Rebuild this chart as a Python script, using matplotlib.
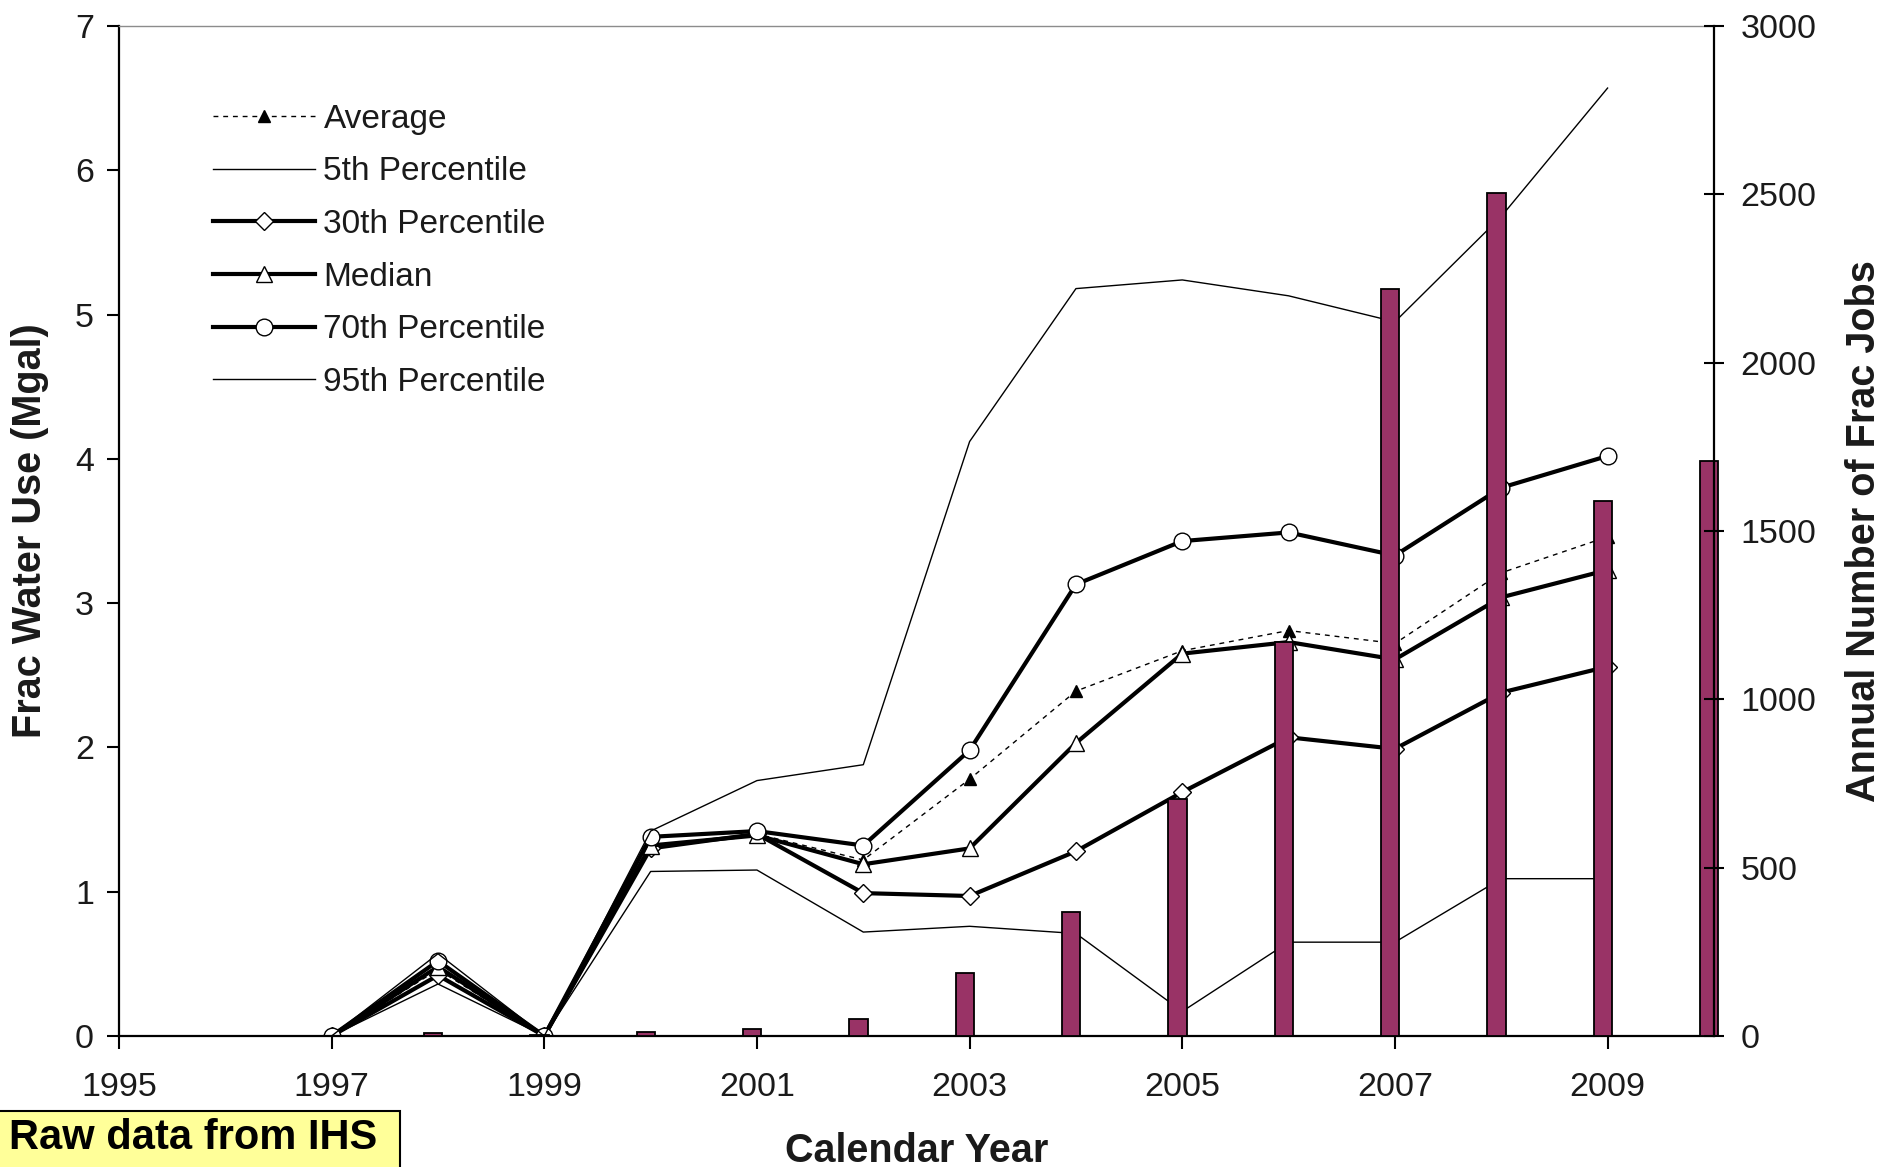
import numpy as np
import matplotlib.pyplot as plt
from matplotlib.patches import Rectangle

plt.rcParams['font.family'] = ['Liberation Sans', 'DejaVu Sans']

# water use per frac job (Mgal), by calendar year
years = [1997, 1998, 1999, 2000, 2001, 2002, 2003, 2004, 2005, 2006, 2007, 2008, 2009]
average = [0, 0.46, 0, 1.32, 1.40, 1.22, 1.78, 2.39, 2.67, 2.81, 2.72, 3.21, 3.46]
p5 = [0, 0.36, 0, 1.14, 1.15, 0.72, 0.76, 0.71, 0.17, 0.65, 0.65, 1.09, 1.09]
p30 = [0, 0.42, 0, 1.30, 1.40, 0.99, 0.97, 1.28, 1.69, 2.07, 1.99, 2.38, 2.56]
median = [0, 0.48, 0, 1.32, 1.39, 1.19, 1.30, 2.03, 2.65, 2.73, 2.61, 3.04, 3.23]
p70 = [0, 0.52, 0, 1.38, 1.42, 1.32, 1.98, 3.13, 3.43, 3.49, 3.33, 3.80, 4.02]
p95 = [0, 0.57, 0, 1.42, 1.77, 1.88, 4.12, 5.18, 5.24, 5.13, 4.95, 5.68, 6.57]

# annual number of frac jobs
job_years = [1998, 1999, 2000, 2001, 2002, 2003, 2004, 2005, 2006, 2007, 2008, 2009, 2010]
jobs = [10, 4, 12, 22, 50, 187, 368, 705, 1169, 2218, 2504, 1590, 1708]

bar_color = '#993366'
txt = '#1a1a1a'

fig = plt.figure(figsize=(18.83, 11.67), dpi=100)
ax = fig.add_axes([0.0632, 0.1123, 0.8470, 0.8654])
ax2 = ax.twinx()

thick = 3.0
thin = 1.0
ax.plot(years, average, color='black', lw=1.0, ls=(0, (3.5, 3.5)), marker='^',
        markersize=9, markerfacecolor='black', markeredgecolor='black', label='Average')
ax.plot(years, p5, color='black', lw=thin, label='5th Percentile')
ax.plot(years, p30, color='black', lw=thick, marker='D', markersize=9,
        markerfacecolor='white', markeredgecolor='black', markeredgewidth=1.0,
        label='30th Percentile')
ax.plot(years, median, color='black', lw=thick, marker='^', markersize=12,
        markerfacecolor='white', markeredgecolor='black', markeredgewidth=1.0,
        label='Median')
ax.plot(years, p70, color='black', lw=thick, marker='o', markersize=12,
        markerfacecolor='white', markeredgecolor='black', markeredgewidth=1.0,
        label='70th Percentile')
ax.plot(years, p95, color='black', lw=thin, label='95th Percentile')

bar_x = np.array(job_years) - 0.045
ax2.bar(bar_x, jobs, width=0.17, color=bar_color, edgecolor='black',
        linewidth=1.3, clip_on=False)

ax.set_xlim(1995, 2010)
ax.set_ylim(0, 7)
ax2.set_ylim(0, 3000)
ax.set_xticks(np.arange(1995, 2010, 2))
ax.set_yticks(np.arange(0, 8, 1))
ax2.set_yticks(np.arange(0, 3001, 500))

ax.tick_params(axis='both', labelsize=24.5, labelcolor=txt, width=1.5,
               length=9, direction='out')
ax.tick_params(axis='x', pad=17)
ax.tick_params(axis='y', pad=9)
ax2.tick_params(axis='y', labelsize=24.5, labelcolor=txt, width=1.5,
                length=14, direction='inout', pad=12)

for s in ['left', 'bottom']:
    ax.spines[s].set_linewidth(1.6)
    ax.spines[s].set_color('black')
ax.spines['top'].set_color('#8c8c8c')
ax.spines['top'].set_linewidth(1.0)
ax.spines['right'].set_visible(False)
ax2.spines['top'].set_visible(False)
ax2.spines['left'].set_visible(False)
ax2.spines['bottom'].set_visible(False)
ax2.spines['right'].set_linewidth(1.6)

ax.set_xlabel('Calendar Year', fontsize=28.5, fontweight='bold', color=txt)
ax.xaxis.set_label_coords(0.5, -0.095)
ax.set_ylabel('Frac Water Use (Mgal)', fontsize=28.5, fontweight='bold', color=txt)
ax.yaxis.set_label_coords(-0.044, 0.5)
ax2.set_ylabel('Annual Number of Frac Jobs', fontsize=28.5, fontweight='bold', color=txt)
ax2.yaxis.set_label_coords(1.082, 0.5)

leg = ax.legend(loc='upper left', bbox_to_anchor=(0.059, 0.923), frameon=False,
                fontsize=24, handlelength=3.06, handletextpad=0.25,
                labelspacing=0.65, borderpad=0, borderaxespad=0, numpoints=1)
for t in leg.get_texts():
    t.set_color(txt)

# note box in lower left corner
fig.patches.append(Rectangle((-0.01, -0.01), 400 / 1883 + 0.01, 56 / 1167 + 0.01,
                             transform=fig.transFigure, facecolor='#ffff99',
                             edgecolor='black', linewidth=1.5, zorder=5))
fig.text(193 / 1883, 1 - 1138 / 1167, 'Raw data from IHS', fontsize=30,
         fontweight='bold', color='black', ha='center', va='center', zorder=6)

fig.savefig('out.png', dpi=100)
